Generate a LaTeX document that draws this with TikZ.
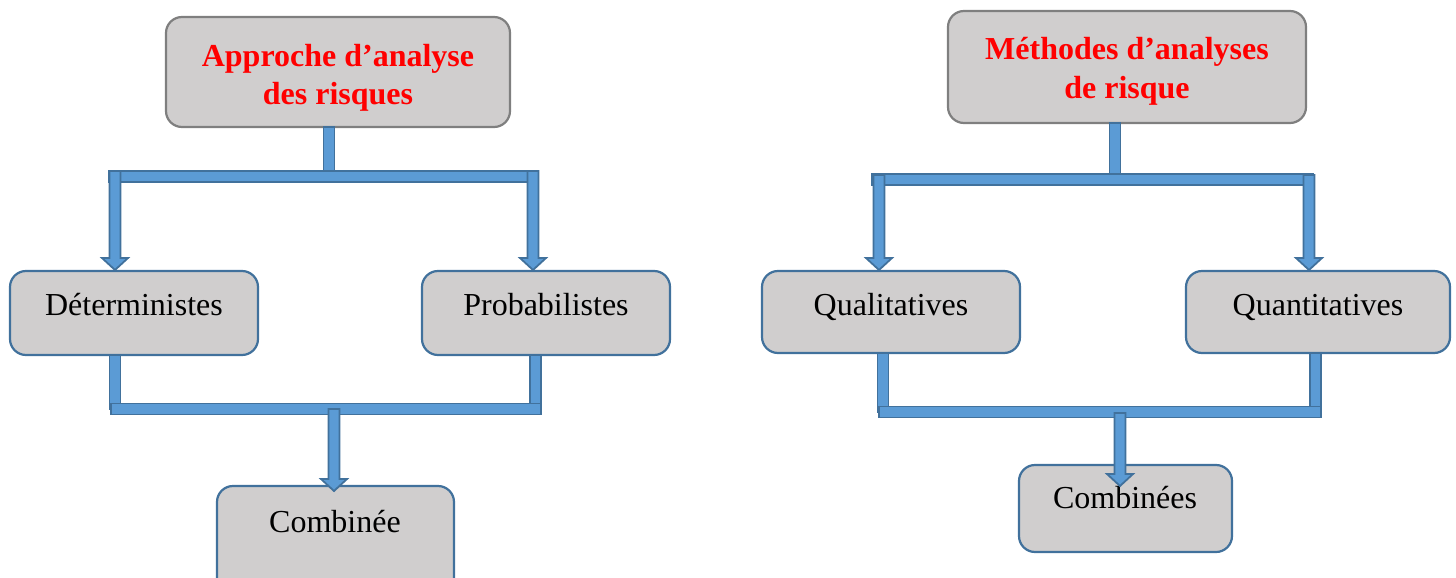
\documentclass[tikz,border=0pt]{standalone}
\usepackage{fontspec}
\setmainfont{Liberation Serif}
\usetikzlibrary{fit}

\definecolor{pipefill}{HTML}{5B9BD5}
\definecolor{pipeline}{HTML}{41719C}
\definecolor{boxfill}{HTML}{D0CECE}
\definecolor{boxgray}{HTML}{7F7F7F}

% block connectors, in pixel units
\newcommand\pipeV[3]{% x, y from, y to
  \filldraw[pipe] (#1-5.5,#2) rectangle (#1+5.5,#3);}
\newcommand\pipeH[3]{% y, x from, x to
  \filldraw[pipe] (#2,#1-5.5) rectangle (#3,#1+5.5);}
\newcommand\pipeArrow[3]{% x, y from, y of tip
  \filldraw[pipe] (#1-5.5,#2) -- (#1+5.5,#2) -- (#1+5.5,#3-12) -- (#1+13,#3-12)
    -- (#1,#3) -- (#1-13,#3-12) -- (#1-5.5,#3-12) -- cycle;}

\begin{document}
\begin{tikzpicture}[x=0.5pt,y=-0.5pt,
  pipe/.style={fill=pipefill,draw=pipeline,line width=0.9pt,line join=miter},
  headbox/.style={fill=boxfill,draw=boxgray,line width=1.1pt,rounded corners=8pt,inner sep=0pt},
  itembox/.style={fill=boxfill,draw=pipeline,line width=1.1pt,rounded corners=8pt,inner sep=0pt},
  headtxt/.style={font=\fontsize{16}{19}\selectfont\bfseries,text=red,anchor=base,inner sep=0pt},
  itemtxt/.style={font=\fontsize{16}{19}\selectfont,anchor=base,inner sep=0pt}]
\useasboundingbox (0,0) rectangle (1456,578);

% ---- left tree: boxes
\node[headbox,fit={(166,17) (510,127)}] (app) {};
\node[headtxt] (app1) at (338,66) {Approche d’analyse};
\node[headtxt] (app2) at (338,104) {des risques};
\node[itembox,fit={(10,271) (258,355)}] (det) {};
\node[itemtxt] (dett) at (134,315) {Déterministes};
\node[itembox,fit={(422,271) (670,355)}] (prob) {};
\node[itemtxt] (probt) at (546,315) {Probabilistes};
\node[itembox,fit={(217,486) (454,600)}] (comb) {};
\node[itemtxt] (combt) at (335,532) {Combinée};

% ---- left tree: connectors
\pipeV{329}{127}{171}
\pipeH{176.5}{109}{538}
\pipeArrow{115}{171}{270}
\pipeArrow{533}{171}{270}
\pipeV{115}{355}{409}
\pipeV{535.5}{355}{409}
\pipeH{409}{111}{541}
\pipeArrow{334}{409}{491}

% ---- right tree: boxes
\node[headbox,fit={(948,11) (1306,123)}] (meth) {};
\node[headtxt] (meth1) at (1127,59) {Méthodes d’analyses};
\node[headtxt] (meth2) at (1127,98) {de risque};
\node[itembox,fit={(762,271) (1020,353)}] (qual) {};
\node[itemtxt] (qualt) at (891,315) {Qualitatives};
\node[itembox,fit={(1186,271) (1450,353)}] (quant) {};
\node[itemtxt] (quantt) at (1318,315) {Quantitatives};
\node[itembox,fit={(1019,465) (1232,552)}] (combs) {};
\node[itemtxt] (combst) at (1125,508) {Combinées};

% ---- right tree: connectors
\pipeV{1115}{123}{175}
\pipeH{179.5}{872}{1313}
\pipeArrow{879}{175}{270}
\pipeArrow{1309}{175}{270}
\pipeV{883}{353}{412}
\pipeV{1315.5}{353}{412}
\pipeH{412}{879}{1321}
\pipeArrow{1120}{413}{486}
\end{tikzpicture}
\end{document}
